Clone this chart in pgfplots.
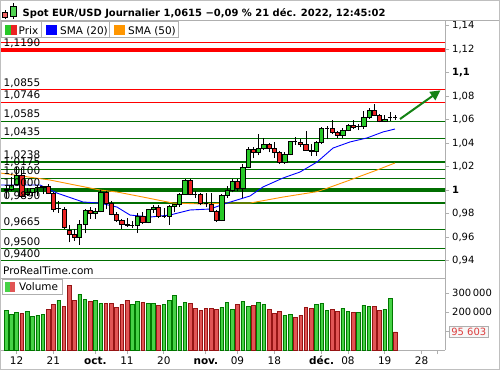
\documentclass[border=0pt]{standalone}
\usepackage{fontspec}
\setmainfont{DejaVu Sans}
\usepackage{pgfplots}
\pgfplotsset{compat=1.18}
\usepackage{pgfplotstable}
\usetikzlibrary{arrows.meta}

\definecolor{lvgreen}{RGB}{0,110,0}
\definecolor{lvred}{RGB}{255,0,0}
\definecolor{cup}{RGB}{40,200,40}
\definecolor{cdn}{RGB}{235,35,35}
\definecolor{vup}{RGB}{70,210,70}
\definecolor{vupd}{RGB}{0,120,0}
\definecolor{vdn}{RGB}{225,85,85}
\definecolor{vdnd}{RGB}{150,20,20}
\definecolor{framegray}{RGB}{175,175,175}
\definecolor{smaor}{RGB}{255,150,0}
\definecolor{arrowg}{RGB}{20,130,20}
\definecolor{boxred}{RGB}{220,60,60}

\newcommand\fA{\fontsize{10.5}{12}\selectfont}
\newcommand\fT{\fontsize{10}{12}\selectfont}
\newcommand\fV{\fontsize{10}{12}\selectfont}

\pgfplotstableread{
i o h l c
0 0.9995 1.0030 0.9930 1.0005
1 1.0005 1.0110 0.9990 1.0040
2 1.0045 1.0195 1.0040 1.0125
3 1.0125 1.0190 0.9935 0.9945
4 0.9960 1.0020 0.9950 0.9985
5 0.9985 1.0020 0.9945 1.0018
6 1.0018 1.0040 0.9950 1.0020
7 1.0020 1.0035 0.9965 1.0030
8 1.0030 1.0050 0.9965 0.9972
9 0.9972 0.9985 0.9810 0.9840
10 0.9840 0.9905 0.9805 0.9838
11 0.9838 0.9855 0.9665 0.9680
12 0.9660 0.9700 0.9555 0.9620
13 0.9620 0.9670 0.9570 0.9598
14 0.9598 0.9745 0.9535 0.9705
15 0.9705 0.9835 0.9630 0.9825
16 0.9825 0.9855 0.9755 0.9805
17 0.9805 0.9850 0.9755 0.9818
18 0.9818 0.9999 0.9810 0.9985
19 0.9985 0.9995 0.9835 0.9890
20 0.9890 0.9910 0.9785 0.9795
21 0.9795 0.9810 0.9730 0.9740
22 0.9740 0.9750 0.9670 0.9712
23 0.9712 0.9760 0.9685 0.9698
24 0.9700 0.9740 0.9680 0.9702
25 0.9702 0.9807 0.9632 0.9780
26 0.9780 0.9810 0.9710 0.9725
27 0.9725 0.9840 0.9715 0.9840
28 0.9840 0.9875 0.9805 0.9855
29 0.9855 0.9875 0.9760 0.9773
30 0.9773 0.9850 0.9765 0.9776
31 0.9776 0.9870 0.9705 0.9860
32 0.9860 0.9880 0.9810 0.9882
33 0.9882 0.9975 0.9855 0.9965
34 0.9965 1.0093 0.9960 1.0080
35 1.0080 1.0094 0.9955 0.9965
36 0.9965 0.9990 0.9930 0.9963
37 0.9963 0.9975 0.9870 0.9885
38 0.9885 0.9975 0.9855 0.9882
39 0.9882 0.9975 0.9815 0.9822
40 0.9822 0.9830 0.9730 0.9740
41 0.9740 0.9965 0.9735 0.9958
42 0.9958 1.0030 0.9930 1.0002
43 1.0002 1.0095 0.9980 1.0076
44 1.0076 1.0095 0.9995 1.0012
45 1.0012 1.0220 0.9935 1.0190
46 1.0190 1.0365 1.0185 1.0345
47 1.0345 1.0365 1.0270 1.0318
48 1.0318 1.0480 1.0295 1.0352
49 1.0352 1.0440 1.0340 1.0388
50 1.0388 1.0400 1.0320 1.0357
51 1.0357 1.0410 1.0275 1.0322
52 1.0322 1.0335 1.0225 1.0236
53 1.0236 1.0325 1.0225 1.0304
54 1.0304 1.0420 1.0295 1.0412
55 1.0414 1.0450 1.0385 1.0412
56 1.0410 1.0432 1.0365 1.0390
57 1.0390 1.0498 1.0340 1.0342
58 1.0342 1.0395 1.0290 1.0327
59 1.0327 1.0415 1.0290 1.0410
60 1.0410 1.0535 1.0390 1.0525
61 1.0525 1.0545 1.0430 1.0528
62 1.0528 1.0595 1.0480 1.0494
63 1.0494 1.0505 1.0445 1.0468
64 1.0468 1.0530 1.0440 1.0510
65 1.0510 1.0565 1.0500 1.0555
66 1.0555 1.0595 1.0520 1.0535
67 1.0537 1.0565 1.0510 1.0539
68 1.0539 1.0675 1.0520 1.0620
69 1.0620 1.0695 1.0605 1.0682
70 1.0682 1.0736 1.0630 1.0632
71 1.0632 1.0645 1.0575 1.0588
72 1.0588 1.0640 1.0578 1.0606
73 1.0618 1.0660 1.0590 1.0620
74 1.0620 1.0640 1.0596 1.0617
}\candles

\pgfplotstableread{
i v
0 209
1 188
2 197
4 204
5 177
6 183
7 188
10 262
14 293
15 267
17 262
18 246
24 240
25 256
27 246
28 246
30 240
31 262
32 288
33 230
34 251
41 225
42 251
43 214
45 256
46 230
48 251
49 240
53 183
54 188
59 240
60 246
61 209
64 219
65 204
67 198
68 235
69 230
72 214
73 272
}\volup

\pgfplotstableread{
i v
3 193
8 214
9 240
11 230
12 341
13 262
16 256
19 246
20 246
21 225
22 240
23 262
26 251
29 235
35 246
36 219
37 209
38 219
39 219
40 214
44 240
47 235
50 214
51 193
52 204
55 172
56 183
57 225
58 219
62 214
63 204
66 198
70 230
71 209
74 95.603
}\voldn

\pgfplotsset{
  wick/.style={black, line width=0.6bp},
  doji/.style={black, line width=1bp},
  upc/.style={fill=cup, draw=black, line width=0.5bp},
  dnc/.style={fill=cdn, draw=black, line width=0.5bp},
  lvthin/.style={line width=1.2bp},
  lvthick/.style={line width=3.5bp},
}
\tikzset{lvl/.style={anchor=base west, inner sep=0pt, xshift=2.5bp, yshift=3.5bp, font=\fA}}

\begin{document}
\begin{tikzpicture}[x=1bp,y=1bp]
\path[use as bounding box] (0,0) rectangle (500,370);
\fill[white] (0,0) rectangle (500,370);

% ---------------- price panel
\begin{axis}[at={(1bp,92bp)}, anchor=south west, scale only axis,
  width=444bp, height=258bp,
  xmin=-0.95, xmax=83.46, ymin=0.92511, ymax=1.14468,
  axis x line=none, axis y line*=right,
  axis line style={framegray, line width=0.8bp},
  tick align=outside, major tick length=4bp,
  tick style={framegray, line width=0.8bp},
  scaled ticks=false,
  ytick={0.94,0.96,0.98,1,1.02,1.04,1.06,1.08,1.1,1.12,1.14},
  yticklabels={{0,94},{0,96},{0,98},{\textbf{1}},{1,02},{1,04},{1,06},{1,08},{\textbf{1,1}},{1,12},{1,14}},
  yticklabel style={font=\fT, anchor=west, inner sep=0pt, xshift=3bp},
  clip mode=individual,
]
% level lines
\addplot[lvred, lvthin] coordinates {(-2,1.1257) (85,1.1257)};
\addplot[lvred, lvthick] coordinates {(-2,1.1190) (85,1.1190)};
\addplot[lvred, lvthin] coordinates {(-2,1.0855) (85,1.0855)};
\addplot[lvred, lvthin] coordinates {(-2,1.0746) (85,1.0746)};
\addplot[lvgreen, lvthin] coordinates {(-2,1.0585) (85,1.0585)};
\addplot[lvgreen, lvthin] coordinates {(-2,1.0435) (85,1.0435)};
\addplot[lvgreen, lvthin] coordinates {(-2,1.0238) (85,1.0238)};
\addplot[lvgreen, lvthin] coordinates {(-2,1.0175) (85,1.0175)};
\addplot[lvgreen, lvthin] coordinates {(-2,1.0100) (85,1.0100)};
\addplot[lvgreen, lvthick] coordinates {(-2,1.0000) (85,1.0000)};
\addplot[lvgreen, lvthin] coordinates {(-2,0.9890) (85,0.9890)};
\addplot[lvgreen, lvthin] coordinates {(-2,0.9665) (85,0.9665)};
\addplot[lvgreen, lvthin] coordinates {(-2,0.9500) (85,0.9500)};
\addplot[lvgreen, lvthin] coordinates {(-2,0.9400) (85,0.9400)};
% SMA 50
\addplot[smaor, line width=0.9bp] coordinates {
(-1.14,1.0145) (8.37,1.0085) (17.87,1.0000) (21.10,0.9983) (26.05,0.9940)
(31.75,0.9889) (37.45,0.9881) (41.63,0.9889) (46.39,0.9889) (52.66,0.9940)
(59.13,0.9986) (61.0,1.0014) (65.40,1.0085) (70.53,1.0170) (73.95,1.0230)};
% SMA 20
\addplot[blue, line width=0.9bp] coordinates {
(-1.14,1.0043) (6.46,1.0043) (9.70,0.9974) (14.64,0.9898) (17.87,0.9889)
(21.10,0.9855) (23.57,0.9787) (27.38,0.9770) (31.18,0.9787) (34.98,0.9830)
(38.78,0.9838) (42.02,0.9889) (46.39,0.9949) (48.86,1.0026) (52.66,1.0102)
(55.89,1.0153) (59.13,1.0238) (62.17,1.0357) (65.40,1.0409) (68.63,1.0443)
(71.67,1.0494) (73.95,1.0519)};
% candles
\pgfplotsinvokeforeach{0,...,74}{%
  \pgfplotstablegetelem{#1}{o}\of\candles \let\cO\pgfplotsretval
  \pgfplotstablegetelem{#1}{h}\of\candles \let\cH\pgfplotsretval
  \pgfplotstablegetelem{#1}{l}\of\candles \let\cL\pgfplotsretval
  \pgfplotstablegetelem{#1}{c}\of\candles \let\cC\pgfplotsretval
  \pgfmathsetmacro\xa{#1-0.4}\pgfmathsetmacro\xb{#1+0.4}%
  \pgfmathtruncatemacro\ctype{abs(\cC-\cO)<0.0006 ? 0 : (\cC>\cO ? 1 : 2)}%
  \edef\doit{\noexpand\addplot[wick] coordinates {(#1,\cL) (#1,\cH)};}\doit
  \ifcase\ctype
    \edef\doit{\noexpand\addplot[doji] coordinates {(\xa,\cO) (\xb,\cO)};}\doit
  \or
    \edef\doit{\noexpand\addplot[upc] coordinates {(\xa,\cO) (\xb,\cO) (\xb,\cC) (\xa,\cC)} --cycle;}\doit
  \or
    \edef\doit{\noexpand\addplot[dnc] coordinates {(\xa,\cO) (\xb,\cO) (\xb,\cC) (\xa,\cC)} --cycle;}\doit
  \fi
}
% arrow
\addplot[arrowg, line width=2bp, -{Triangle[length=10bp,width=10bp]}] coordinates {(74.9,1.0604) (82.6,1.0848)};
% level labels
\node[lvl] at (axis cs:-0.95,1.1190) {1,1190};
\node[lvl] at (axis cs:-0.95,1.0855) {1,0855};
\node[lvl] at (axis cs:-0.95,1.0746) {1,0746};
\node[lvl] at (axis cs:-0.95,1.0585) {1,0585};
\node[lvl] at (axis cs:-0.95,1.0435) {1,0435};
\node[lvl] at (axis cs:-0.95,1.0238) {1,0238};
\node[lvl] at (axis cs:-0.95,1.0175) {1,0175};
\node[lvl] at (axis cs:-0.95,1.0100) {1,0100};
\node[lvl] at (axis cs:-0.95,1.0000) {1,0000};
\node[lvl] at (axis cs:-0.95,0.9890) {0,9890};
\node[lvl] at (axis cs:-0.95,0.9665) {0,9665};
\node[lvl] at (axis cs:-0.95,0.9500) {0,9500};
\node[lvl] at (axis cs:-0.95,0.9400) {0,9400};
\end{axis}

% ---------------- volume panel
\begin{axis}[at={(1bp,20bp)}, anchor=south west, scale only axis,
  width=444bp, height=72bp,
  xmin=-0.95, xmax=83.46, ymin=0, ymax=378.9,
  axis x line*=bottom, axis y line*=right,
  axis line style={framegray, line width=0.8bp},
  tick align=outside, major tick length=4bp,
  tick style={framegray, line width=0.8bp},
  scaled ticks=false,
  xtick={2,9,17,23,30,38,44,51,60,65,72,79,82},
  xticklabels={12,21,\textbf{oct.},11,20,\textbf{nov.},09,18,\textbf{déc.},08,19,28,{}},
  xticklabel style={font=\fA, inner sep=0pt, text height=7.5bp, text depth=2bp, anchor=north, yshift=-3bp},
  ytick={100,200,300},
  yticklabels={{},{200\,000},{300\,000}},
  yticklabel style={font=\fV, anchor=west, inner sep=0pt, xshift=3bp},
  clip mode=individual,
]
\addplot[ybar, bar width=3.6bp, bar shift=0pt, fill=vup, draw=vupd, line width=0.5bp] table[x=i,y=v]{\volup};
\addplot[ybar, bar width=3.6bp, bar shift=0pt, fill=vdn, draw=vdnd, line width=0.5bp] table[x=i,y=v]{\voldn};
\coordinate (vbox) at (axis cs:83.46,95.603);
\end{axis}

\node[anchor=west, xshift=3.5bp, draw=framegray, line width=0.8bp, fill=black!3, text=boxred, font=\fV, inner xsep=2.5bp, inner ysep=1.5bp] at (vbox) {95 603};

% ---------------- frame
\draw[framegray, line width=0.8bp] (0,349.4) -- (500,349.4);
\draw[framegray, line width=0.8bp] (0,92) -- (445,92);
\draw[framegray!80, line width=0.8bp] (0.4,0.4) rectangle (499.6,369.6);

% title icon
\draw[black, line width=0.5bp] (5,351) -- (5,360);
\draw[black, line width=0.5bp, fill=cdn!70] (2.7,352.7) rectangle (7.3,357.7);
\draw[black, line width=0.5bp] (13.3,351) -- (13.3,366.7);
\draw[black, line width=0.5bp, fill=cup!80] (10.7,354) rectangle (16,364);
\node[anchor=base west, inner sep=0pt, font=\bfseries\fT] at (22.5,353.6) {Spot EUR/USD Journalier 1,0615 −0,09 \% 21 déc. 2022, 12:45:02};

% legends
\draw[framegray, line width=0.8bp, fill=white] (1.5,332.3) rectangle (41.3,348.6);
\fill[cup] (4.7,335) rectangle (10.7,345);
\fill[cdn] (10.7,335) rectangle (16.7,345);
\node[anchor=base west, inner sep=0pt, font=\fA] at (18.5,336) {Prix};
\draw[framegray, line width=0.8bp, fill=white] (41.7,332.3) rectangle (109.4,348.6);
\fill[blue] (45.5,335) rectangle (57,345);
\node[anchor=base west, inner sep=0pt, font=\fA] at (60,336) {SMA (20)};
\draw[framegray, line width=0.8bp, fill=white] (109.8,332.3) rectangle (178,348.6);
\fill[smaor] (113.5,335) rectangle (125,345);
\node[anchor=base west, inner sep=0pt, font=\fA] at (128,336) {SMA (50)};

\node[anchor=base west, inner sep=0pt, font=\fA] at (3,95.5) {ProRealTime.com};

\draw[framegray, line width=0.8bp, fill=white] (2.8,76) rectangle (62,90.7);
\fill[vup] (5,78) rectangle (10,88);
\fill[vdn] (10,78) rectangle (15,88);
\node[anchor=base west, inner sep=0pt, font=\fA] at (19,79.5) {Volume};
\end{tikzpicture}
\end{document}
